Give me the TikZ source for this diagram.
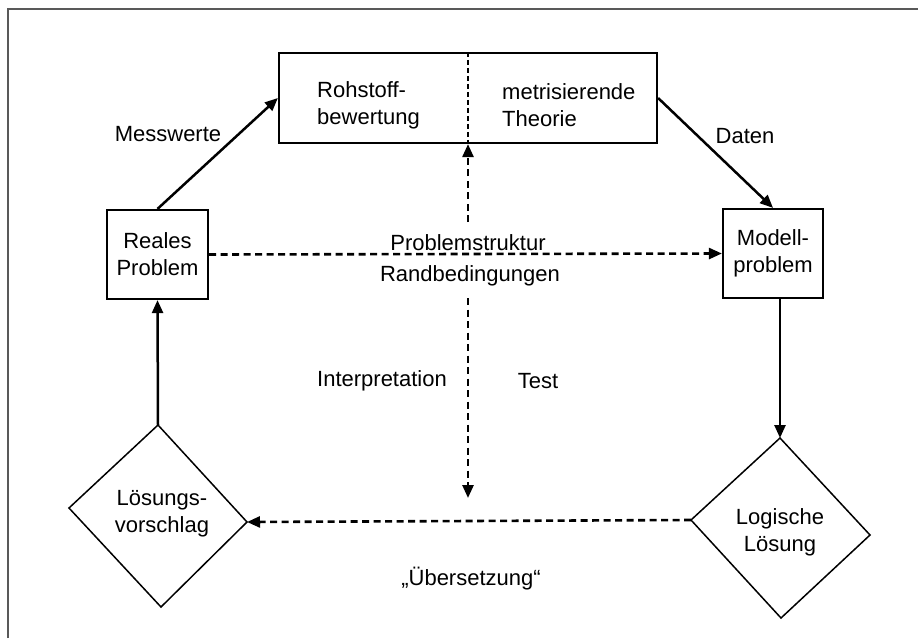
\documentclass[tikz,border=0pt]{standalone}
\usepackage{fontspec}
\setmainfont{Liberation Sans}
\usetikzlibrary{arrows.meta}
\begin{document}
\begin{tikzpicture}[x=1pt,y=-1pt,
  every node/.style={font=\fontsize{22}{27}\selectfont, inner sep=0pt},
  box/.style={draw, line width=2.2pt, rectangle, align=center},
  arr/.style={line width=2.5pt, -{Triangle[length=13pt,width=11pt]}},
  darr/.style={line width=2.6pt, dash pattern=on 7pt off 4.5pt, -{Triangle[length=13pt,width=11pt]}},
  divider/.style={line width=2.5pt, dash pattern=on 5pt off 3pt},
  dia/.style={line width=1.5pt, line join=miter},
  lbl/.style={align=center},
  frame/.style={draw=black!65, line width=1.2pt}]
\useasboundingbox (0,0) rectangle (918,638);
\draw[frame] (8,638) -- (8,9) -- (918,9);

% top box
\node[box, minimum width=378pt, minimum height=90pt] (top) at (468,98) {};
\draw[divider] (top.north) -- (top.south);
\node[align=left, anchor=west] (rohst) at (317,105) {Rohstoff-\\bewertung};
\node[align=left, anchor=west] (metr) at (502,105) {metrisierende\\Theorie};

% boxes
\node[box, minimum width=101pt, minimum height=89pt] (reales) at (157.5,254.5) {Reales\\Problem};
\node[box, minimum width=100pt, minimum height=89pt] (modell) at (773,253.5) {Modell-\\problem};

% diamonds
\coordinate (ldN) at (158,425);
\coordinate (ldW) at (69,508);
\coordinate (ldE) at (247,522);
\coordinate (ldS) at (161,607);
\draw[dia] (ldN) -- (ldE) -- (ldS) -- (ldW) -- cycle;
\node[lbl] (ldiam) at (162,514) {Lösungs-\\vorschlag};

\coordinate (rdN) at (780,438);
\coordinate (rdW) at (691,520);
\coordinate (rdE) at (870,535);
\coordinate (rdS) at (781,618);
\draw[dia] (rdN) -- (rdE) -- (rdS) -- (rdW) -- cycle;
\node[lbl] (rdiam) at (780,532) {Logische\\Lösung};

% solid arrows
\draw[arr] (reales.north) -- (top.west);
\draw[arr] (top.east) -- (modell.north);
\draw[arr] (rdN |- modell.south) -- (rdN);
\draw[arr] (ldN) -- (reales.south);

% dashed arrows
\draw[darr] (reales.east) -- (modell.west);
\coordinate (vup) at (468,222);
\draw[darr] (vup) -- (top.south);
\coordinate (vd1) at (468,298);
\coordinate (vd2) at (468,498);
\draw[darr] (vd1) -- (vd2);
\draw[darr] (rdW) -- (ldE);

% labels
\node (messwerte) at (168,134) {Messwerte};
\node (daten) at (745,136) {Daten};
\node (pstruk) at (468,243) {Problemstruktur};
\node (randb) at (470,276) {Randbedingungen};
\node (interp) at (382,381) {Interpretation};
\node (test) at (538,381) {Test};
\node (uebers) at (471,579) {„Übersetzung“};
\end{tikzpicture}
\end{document}
